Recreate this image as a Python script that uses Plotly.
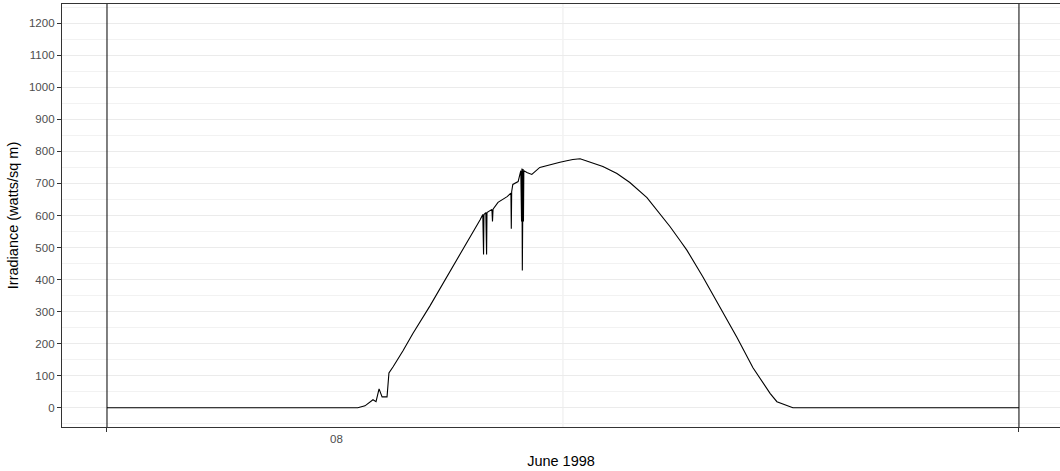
import plotly.graph_objects as go

# Hours since midnight, 8 June 1998
hours = [0, 6.6, 6.79, 7.0, 7.08, 7.16, 7.24, 7.37, 7.42, 7.53, 7.79, 8.05, 8.5, 8.95, 9.37,
         9.82, 9.89, 9.91, 9.92, 9.97, 9.99, 10.0, 10.13, 10.145, 10.16, 10.29, 10.53, 10.63,
         10.64, 10.65, 10.68, 10.82, 10.89, 10.91, 10.92, 10.93, 10.95, 10.96, 10.97, 11.05,
         11.18, 11.39, 11.66, 11.92, 12.1, 12.26, 12.45, 12.6, 12.71, 13.05, 13.42, 13.76,
         14.21, 14.63, 14.82, 15.08, 15.26, 15.68, 16.13, 16.58, 17.0, 17.25, 17.45, 17.63,
         17.89, 18.05, 24]
irradiance = [0, 0, 6, 25, 19, 59, 34, 34, 109, 128, 178, 232, 318, 410, 492,
              587, 603, 478, 603, 609, 478, 609, 619, 581, 620, 641, 659, 670,
              559, 675, 697, 706, 740, 581, 747, 428, 745, 581, 740, 734,
              728, 750, 759, 766, 771, 775, 777, 771, 765, 753, 731, 703,
              656, 594, 565, 522, 492, 409, 316, 219, 125, 80, 45, 19,
              6, 0, 0]

day_bounds = [0, 24]
y_ticks = list(range(0, 1201, 100))
x_label_pos = 6.05
x_label_text = "08"

fig = go.Figure()
fig.add_trace(go.Scatter(x=hours, y=irradiance, mode="lines",
                         line=dict(color="black", width=1.1, shape="linear"), showlegend=False,
                         hoverinfo="skip"))

for b in day_bounds:
    fig.add_shape(type="line", x0=b, x1=b, y0=0, y1=1, xref="x", yref="paper",
                  line=dict(color="black", width=1))
fig.add_shape(type="line", x0=12, x1=12, y0=0, y1=1, xref="x", yref="paper",
              line=dict(color="#EBEBEB", width=1), layer="below")

fig.add_annotation(x=x_label_pos, y=0, xref="x", yref="paper", yshift=-20,
                   text=x_label_text, showarrow=False,
                   font=dict(family="Liberation Sans, Arial", size=11.5, color="#4D4D4D"))

fig.update_layout(
    width=1060, height=471,
    margin=dict(l=62, r=0, t=4, b=44),
    plot_bgcolor="white", paper_bgcolor="white",
    font=dict(family="Liberation Sans, Arial", color="black"),
    xaxis=dict(range=[-1.184, 25.08], tickvals=day_bounds, ticktext=["", ""],
               ticks="outside", ticklen=4, tickcolor="#333333", tickwidth=1,
               showgrid=False, zeroline=False, showline=True, mirror=True,
               linecolor="#333333", linewidth=1.3,
               title=dict(text="June 1998", font=dict(size=14.5, color="black"), standoff=22)),
    yaxis=dict(range=[-60, 1260], tickvals=y_ticks, ticks="outside", ticklen=4,
               tickcolor="#333333", tickwidth=1,
               tickfont=dict(size=11.5, color="#4D4D4D"),
               showgrid=True, gridcolor="#EBEBEB", gridwidth=1.3, zeroline=False,
               minor=dict(dtick=50, tick0=0, showgrid=True, gridcolor="#F2F2F2", gridwidth=0.8, ticks=""),
               showline=True, linecolor="#333333", linewidth=1.3,
               title=dict(text="Irradiance (watts/sq m)", font=dict(size=14.5, color="black"), standoff=6)),
)

fig.write_html("out.html")
